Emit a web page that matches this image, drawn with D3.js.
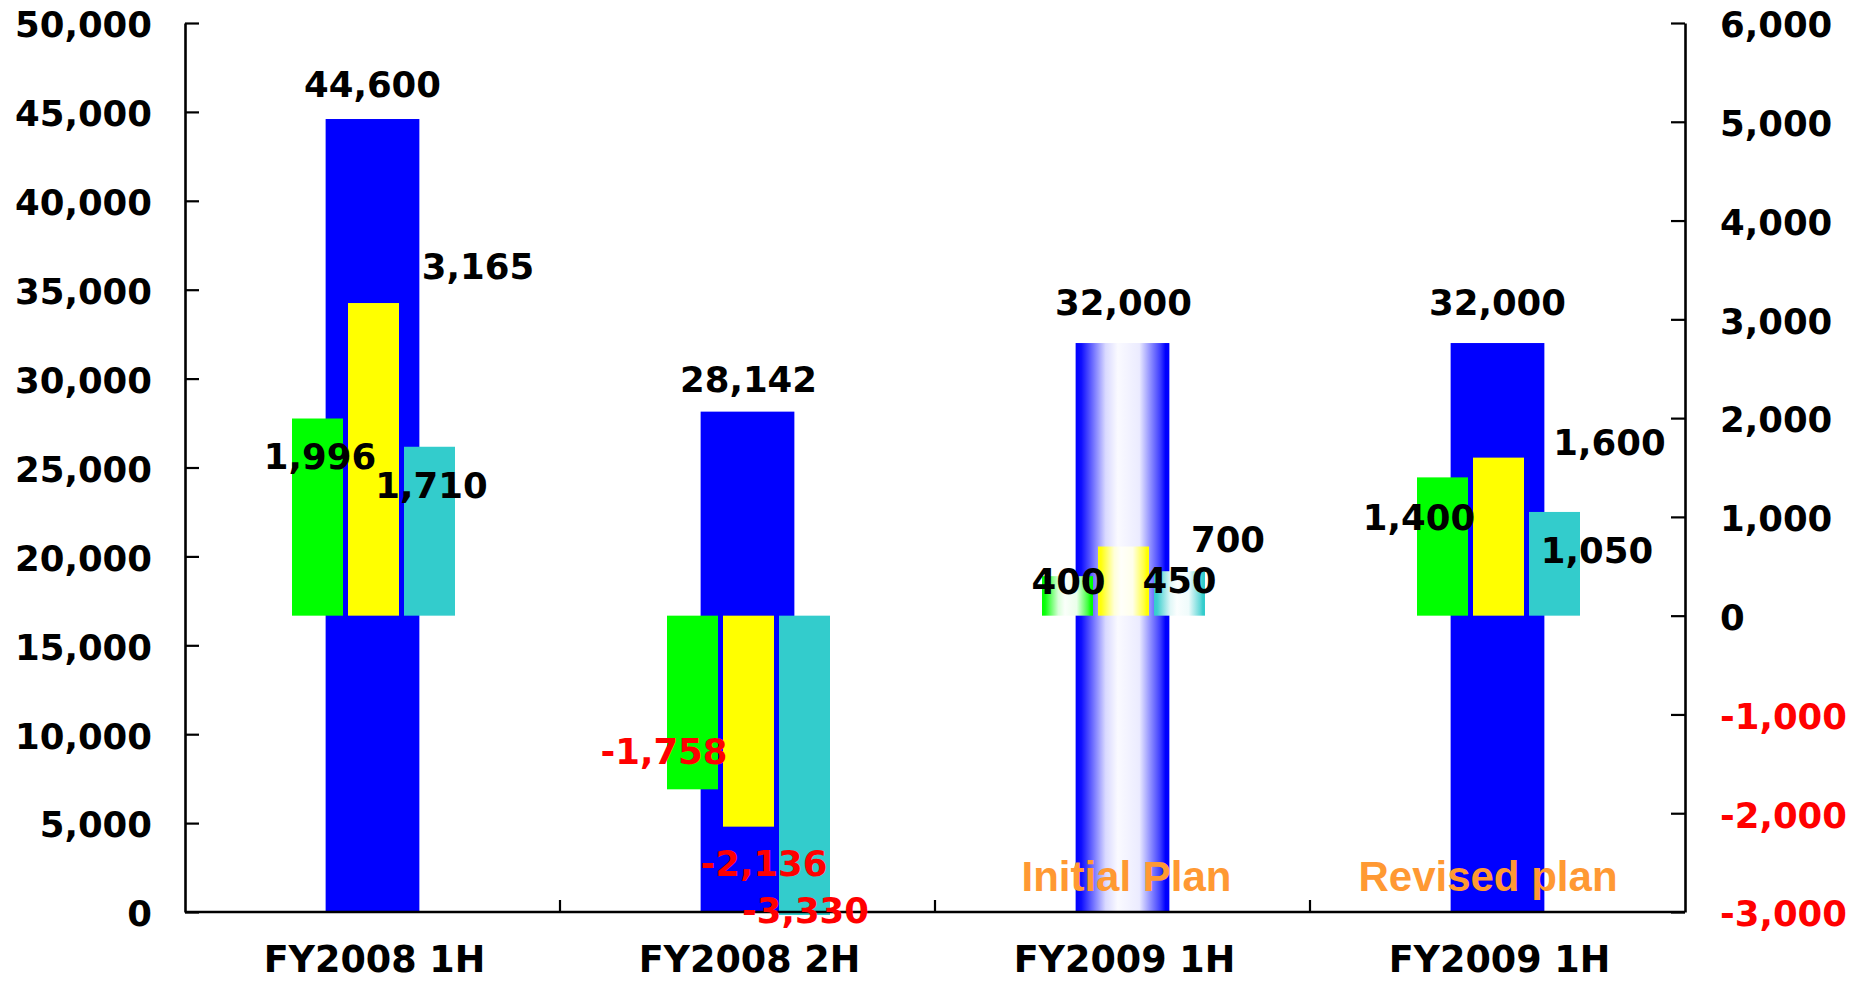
<!DOCTYPE html>
<html><head><meta charset="utf-8">
<script src="https://cdn.jsdelivr.net/npm/d3@7"></script>
<style>body{margin:0;background:#fff}svg{display:block}</style>
</head><body>
<script>
// ---------- data ----------
const categories = ["FY2008 1H", "FY2008 2H", "FY2009 1H", "FY2009 1H"];
const netSales = [44600, 28142, 32000, 32000];          // left axis (blue)
const operatingIncome = [1996, -1758, 400, 1400];       // right axis (green)
const ordinaryIncome = [3165, -2136, 700, 1600];        // right axis (yellow)
const netIncome = [1710, -3330, 450, 1050];             // right axis (teal)
const planNotes = ["", "", "Initial Plan", "Revised plan"];
const leftTicks = [0, 5000, 10000, 15000, 20000, 25000, 30000, 35000, 40000, 45000, 50000];
const rightTicks = [-3000, -2000, -1000, 0, 1000, 2000, 3000, 4000, 5000, 6000];

// ---------- layout / style ----------
const W = 1863, H = 982, L = 185, R = 1685, T = 23, B = 912;
const gradientCats = [false, false, true, false];
const colors = {sales: "#0000ff", op: "#00ff00", ord: "#ffff00", net: "#33cccc"};
const salesLabelOff = [[0, -22], [1, -20], [1, -28], [0, -28]];
const subLabelOff = {
  op:  [[2.5, 50], [-28.5, -25.5], [1, 17.5], [-23.5, 53]],
  ord: [[104.5, -23.7], [15.5, 49], [104.5, 5.7], [111, -3]],
  net: [[2, 51], [1, -21.6], [0, 22], [42.5, 51]]
};
const noteOff = [[0, 0], [0, 0], [4, -21], [-9.5, -21]];
const FONT = "'DejaVu Sans', Verdana, sans-serif";

const fmt = d3.formatLocale({decimal: ".", thousands: ",", grouping: [3], currency: ["$", ""], minus: "-"}).format(",");

const svg = d3.select("body").append("svg").attr("width", W).attr("height", H);
const defs = svg.append("defs");

// gradients
function grad(id, c) {
  const g = defs.append("linearGradient").attr("id", id).attr("x1", 0).attr("x2", 1).attr("y1", 0).attr("y2", 0);
  [[0, c, 1], [0.06, c, 0.95], [0.32, c, 0.15], [0.45, c, 0.02], [0.68, c, 0.08], [0.9, c, 0.75], [0.96, c, 1], [1, c, 1]]
    .forEach(([o, col, a]) => {
      const cc = d3.interpolateRgb("#ffffff", col)(a);
      g.append("stop").attr("offset", o).attr("stop-color", cc);
    });
}
Object.entries(colors).forEach(([k, c]) => grad("g-" + k, c));

defs.append("clipPath").attr("id", "plotclip").append("rect")
  .attr("x", L).attr("y", T - 5).attr("width", R - L).attr("height", B - T + 8);

// scales
const idx = categories.map((d, i) => i);
const x = d3.scaleBand().domain(idx).range([L, R]).padding(0);
const yL = d3.scaleLinear().domain([0, 50000]).range([B, T]);
const yR = d3.scaleLinear().domain([-3000, 6000]).range([B, T]);
const sub = d3.scaleBand().domain(["op", "ord", "net"]).range([-80.5, 82.5]).paddingInner(5 / 56);
const blueW = x.bandwidth() * 0.25;
const cx = i => x(i) + x.bandwidth() / 2;

const bars = svg.append("g").attr("clip-path", "url(#plotclip)");

// blue bars
bars.selectAll("rect.sales").data(netSales).join("rect")
  .attr("class", "sales")
  .attr("x", (d, i) => cx(i) - blueW / 2)
  .attr("width", blueW)
  .attr("y", d => yL(d))
  .attr("height", d => yL(0) - yL(d))
  .attr("fill", (d, i) => gradientCats[i] ? "url(#g-sales)" : colors.sales);

// sub bars
const subSeries = [["op", operatingIncome], ["ord", ordinaryIncome], ["net", netIncome]];
subSeries.forEach(([k, vals]) => {
  bars.selectAll("rect." + k).data(vals).join("rect")
    .attr("class", k)
    .attr("x", (d, i) => cx(i) + sub(k))
    .attr("width", sub.bandwidth())
    .attr("y", d => Math.min(yR(d), yR(0)))
    .attr("height", d => Math.abs(yR(d) - yR(0)))
    .attr("fill", (d, i) => gradientCats[i] ? `url(#g-${k})` : colors[k]);
});

// axes
const axisStyle = g => {
  g.selectAll("path.domain").attr("stroke", "#000").attr("stroke-width", 2.6);
  g.selectAll(".tick line").attr("stroke", "#000").attr("stroke-width", 2.2);
  g.selectAll(".tick text").attr("font-family", FONT).attr("font-weight", "bold")
    .attr("font-size", "35.5px").attr("dy", "0.39em");
};
svg.append("g").attr("transform", `translate(${L},0)`)
  .call(d3.axisLeft(yL).tickValues(leftTicks).tickFormat(fmt).tickSizeInner(-14).tickSizeOuter(0).tickPadding(33))
  .call(axisStyle)
  .call(g => g.selectAll(".tick text").attr("fill", "#000"));
svg.append("g").attr("transform", `translate(${R},0)`)
  .call(d3.axisRight(yR).tickValues(rightTicks).tickFormat(fmt).tickSizeInner(-14).tickSizeOuter(0).tickPadding(35))
  .call(axisStyle)
  .call(g => g.selectAll(".tick text").attr("fill", d => d < 0 ? "#ff0000" : "#000"));

// bottom axis
const bottom = svg.append("g");
bottom.append("line").attr("x1", L).attr("x2", R).attr("y1", B).attr("y2", B)
  .attr("stroke", "#000").attr("stroke-width", 2.6);
bottom.selectAll("line.sep").data(idx.slice(1)).join("line").attr("class", "sep")
  .attr("x1", d => x(d)).attr("x2", d => x(d)).attr("y1", B).attr("y2", B - 12)
  .attr("stroke", "#000").attr("stroke-width", 2.2);
bottom.selectAll("text.cat").data(categories).join("text").attr("class", "cat")
  .attr("x", (d, i) => cx(i) + 2).attr("y", 972)
  .attr("text-anchor", "middle").attr("font-family", FONT).attr("font-weight", "bold")
  .attr("font-size", "36.5px").attr("fill", "#000").text(d => d);

// plan notes
svg.append("g").selectAll("text").data(planNotes).join("text")
  .attr("x", (d, i) => cx(i) + noteOff[i][0]).attr("y", (d, i) => B + noteOff[i][1])
  .attr("text-anchor", "middle").attr("font-family", "'Liberation Sans', Arial, sans-serif")
  .attr("font-weight", "bold").attr("font-size", "42px").attr("fill", "#ff9933").text(d => d);

// data labels
const labels = svg.append("g").attr("font-family", FONT).attr("font-weight", "bold")
  .attr("font-size", "35.5px").attr("text-anchor", "middle");
labels.selectAll("text.sales").data(netSales).join("text").attr("class", "sales")
  .attr("x", (d, i) => cx(i) + salesLabelOff[i][0])
  .attr("y", (d, i) => yL(d) + salesLabelOff[i][1])
  .attr("fill", "#000").text(d => fmt(d));
subSeries.forEach(([k, vals]) => {
  labels.selectAll("text." + k).data(vals).join("text").attr("class", k)
    .attr("x", (d, i) => cx(i) + sub(k) + sub.bandwidth() / 2 + subLabelOff[k][i][0])
    .attr("y", (d, i) => yR(d) + subLabelOff[k][i][1])
    .attr("fill", d => d < 0 ? "#ff0000" : "#000").text(d => fmt(d));
});
</script>
</body></html>
